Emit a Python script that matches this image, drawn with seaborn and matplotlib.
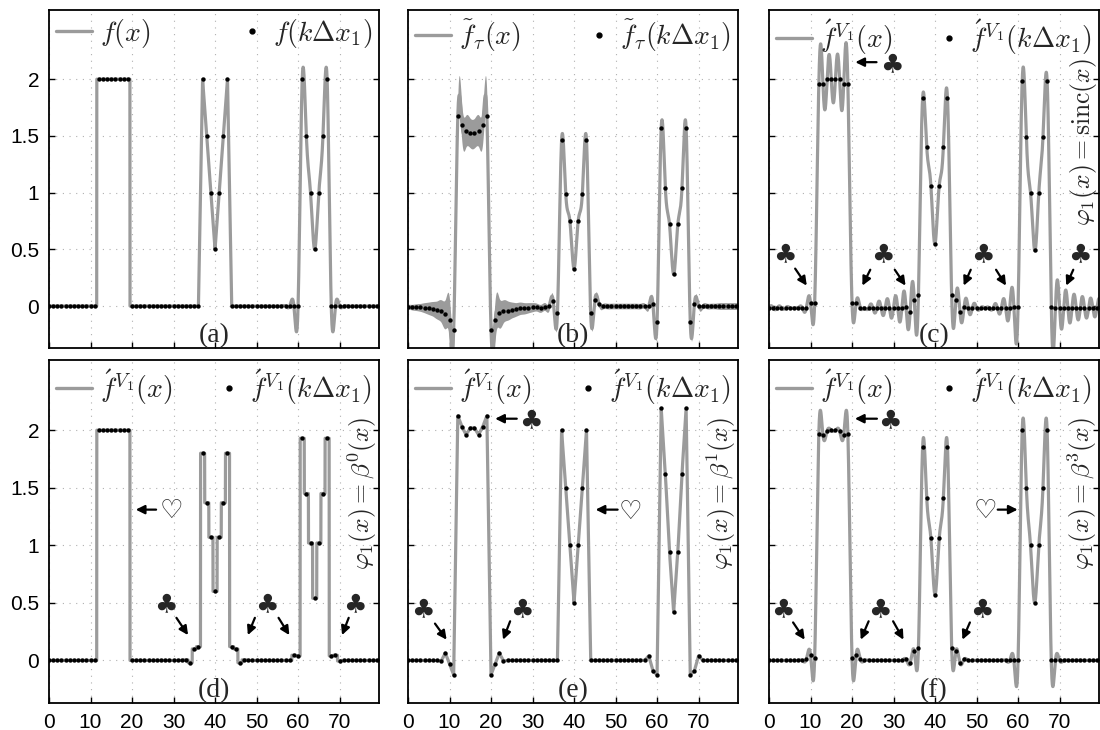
import numpy as np
import seaborn as sns
import matplotlib.pyplot as plt
from matplotlib.lines import Line2D
from matplotlib.ticker import FormatStrFormatter

# sample values k = 0..79 (Delta x1 = 1)
f_a = [0, 0, 0, 0, 0, 0, 0, 0, 0, 0,
       0, 0, 2, 2, 2, 2, 2, 2, 2, 2,
       0, 0, 0, 0, 0, 0, 0, 0, 0, 0,
       0, 0, 0, 0, 0, 0, 0, 2, 1.5, 1,
       0.5, 1, 1.5, 2, 0, 0, 0, 0, 0, 0,
       0, 0, 0, 0, 0, 0, 0, 0, 0, 0,
       0, 2, 1.5, 1, 0.5, 1, 1.5, 2, 0, 0,
       0, 0, 0, 0, 0, 0, 0, 0, 0, 0]

f_b = [-0.006, -0.01, -0.01, -0.012, -0.015, -0.02, -0.025, -0.035, -0.045, -0.07,
       -0.12, -0.21, 1.675, 1.6, 1.545, 1.525, 1.525, 1.545, 1.6, 1.675,
       -0.21, -0.12, -0.064, -0.045, -0.04, -0.035, -0.03, -0.02, -0.02, -0.015,
       -0.01, -0.01, -0.02, -0.005, 0.0, 0.04, -0.064, 1.46, 0.99, 0.75,
       0.33, 0.75, 0.99, 1.46, -0.06, 0.05, 0.02, 0, 0, 0,
       0, 0, 0, 0, 0, 0, 0, 0, 0, 0.02,
       -0.14, 1.57, 1.04, 0.72, 0.28, 0.72, 1.04, 1.57, -0.14, 0.02,
       0, 0, 0, 0, 0, 0, 0, 0, 0, 0]

# half width of the fast oscillation around f_b
env_b = [0.02, 0.025, 0.03, 0.035, 0.045, 0.055, 0.065, 0.08, 0.1, 0.13,
         0.18, 0.22, 0.18, 0.16, 0.14, 0.13, 0.13, 0.14, 0.16, 0.18,
         0.22, 0.18, 0.13, 0.1, 0.085, 0.07, 0.06, 0.055, 0.05, 0.045,
         0.04, 0.035, 0.035, 0.035, 0.035, 0.03, 0.02, 0.015, 0.015, 0.015,
         0.015, 0.015, 0.015, 0.015, 0.02, 0.025, 0.025, 0.025, 0.025, 0.025,
         0.025, 0.025, 0.025, 0.025, 0.025, 0.025, 0.025, 0.025, 0.025, 0.02,
         0.02, 0.015, 0.015, 0.015, 0.015, 0.015, 0.015, 0.015, 0.02, 0.025,
         0.025, 0.025, 0.025, 0.025, 0.025, 0.03, 0.03, 0.03, 0.03, 0.03]

f_c = [-0.015, -0.015, -0.015, -0.015, -0.015, -0.015, -0.015, -0.015, -0.015, -0.015,
       0.03, 0.03, 1.956, 1.956, 2.0, 2.0, 2.0, 2.0, 1.956, 1.956,
       0.03, 0.03, -0.015, -0.015, -0.015, -0.015, -0.015, -0.015, -0.015, -0.015,
       -0.015, -0.015, -0.02, -0.01, -0.05, 0.05, 0.1, 1.83, 1.40, 1.06,
       0.55, 1.06, 1.40, 1.83, 0.1, 0.05, -0.05, -0.01, -0.02, -0.015,
       -0.015, -0.015, -0.015, -0.015, -0.015, -0.015, -0.015, -0.015, -0.015, -0.01,
       -0.01, 1.985, 1.49, 1.0, 0.49, 1.0, 1.49, 1.985, -0.01, -0.02,
       -0.015, -0.015, -0.015, -0.015, -0.015, -0.015, -0.015, -0.015, -0.015, -0.015]

f_d = [0, 0, 0, 0, 0, 0, 0, 0, 0, 0,
       0, 0, 2, 2, 2, 2, 2, 2, 2, 2,
       0, 0, 0, 0, 0, 0, 0, 0, 0, 0,
       0, 0, 0, 0.005, -0.02, 0.1, 0.12, 1.8, 1.37, 1.07,
       0.6, 1.07, 1.37, 1.8, 0.12, 0.1, -0.02, 0.005, 0, 0,
       0, 0, 0, 0, 0, 0, 0, 0, 0, 0.045,
       0.04, 1.93, 1.45, 1.02, 0.54, 1.02, 1.45, 1.93, 0.04, 0.045,
       -0.005, 0, 0, 0, 0, 0, 0, 0, 0, 0]

f_e = [0, 0, 0, 0, 0, 0, 0, 0, -0.005, 0.064,
       -0.03, -0.125, 2.125, 2.03, 1.96, 2.02, 2.02, 1.96, 2.03, 2.125,
       -0.125, -0.03, 0.064, -0.005, 0, 0, 0, 0, 0, 0,
       0, 0, 0, 0, 0, 0, 0, 2.0, 1.5, 1.0,
       0.5, 1.0, 1.5, 2.0, 0, 0, 0, 0, 0, 0,
       0, 0, 0, 0, 0, 0, 0, 0, 0.04, -0.09,
       -0.125, 2.19, 1.62, 0.94, 0.42, 0.94, 1.62, 2.19, -0.125, -0.09,
       0.04, 0, 0, 0, 0, 0, 0, 0, 0, 0]

f_f = [0, 0, 0, 0, 0, 0, 0, 0, 0, 0.01,
       0.05, 0.02, 1.97, 1.955, 1.995, 2.0, 2.0, 1.995, 1.955, 1.97,
       0.02, 0.05, 0.01, 0, 0, 0, 0, 0, 0, 0,
       0, 0, 0, 0.01, -0.025, 0.08, 0.11, 1.85, 1.41, 1.06,
       0.57, 1.06, 1.41, 1.85, 0.11, 0.08, -0.025, 0.01, 0, 0,
       0, 0, 0, 0, 0, 0, 0, 0, 0, 0,
       0, 2.0, 1.5, 1.0, 0.5, 1.0, 1.5, 2.0, 0, 0,
       0, 0, 0, 0, 0, 0, 0, 0, 0, 0]

GRAY = '#9b9b9b'
k = np.arange(80)
xs = np.linspace(0, 79.5, 7951)


def beta3(t):
    t = np.abs(t)
    return np.where(t < 1, 2 / 3 - t**2 + t**3 / 2, np.where(t < 2, (2 - t)**3 / 6, 0.0))


def reconstruct(x, s, kind):
    # continuous curve from the samples with the basis named in the panel
    s = np.asarray(s, float)
    n = len(s)
    if kind == 'b0':
        return s[np.clip(np.floor(x + 0.5).astype(int), 0, n - 1)]
    if kind == 'b1':
        return np.interp(x, np.arange(n), s)
    d = x[:, None] - np.arange(n)[None, :]
    if kind == 'sinc':
        return np.sinc(d) @ s
    A = (np.diag(np.full(n, 4 / 6)) + np.diag(np.full(n - 1, 1 / 6), 1)
         + np.diag(np.full(n - 1, 1 / 6), -1))
    A[0, 1] = A[-1, -2] = 2 / 6
    c = np.linalg.solve(A, s)
    return beta3(d) @ c


def piecewise(x, s, parts):
    s = np.asarray(s, float)
    out = np.zeros_like(x)
    for kind, lo, hi in parts:
        part = np.zeros_like(s)
        part[lo:hi] = s[lo:hi]
        out += reconstruct(x, part, kind)
    return out


fv = r'\acute{f}^{V_1}'
panels = [
    dict(s=f_a, curve=piecewise(xs, f_a, [('b0', 0, 30), ('b1', 30, 50), ('b3', 50, 80)]),
         leg=(r'$f(x)$', r'$f(k\Delta x_1)$'), tag='(a)', side=None),
    dict(s=f_b, curve=reconstruct(xs, f_b, 'b3'),
         leg=(r'$\tilde{f}_\tau(x)$', r'$\tilde{f}_\tau(k\Delta x_1)$'), tag='(b)', side=None),
    dict(s=f_c, curve=reconstruct(xs, f_c, 'sinc'),
         leg=(rf'${fv}(x)$', rf'${fv}(k\Delta x_1)$'), tag='(c)',
         side=r'$\varphi_1(x) = \mathrm{sinc}(x)$'),
    dict(s=f_d, curve=reconstruct(xs, f_d, 'b0'),
         leg=(rf'${fv}(x)$', rf'${fv}(k\Delta x_1)$'), tag='(d)',
         side=r'$\varphi_1(x) = \beta^0(x)$'),
    dict(s=f_e, curve=reconstruct(xs, f_e, 'b1'),
         leg=(rf'${fv}(x)$', rf'${fv}(k\Delta x_1)$'), tag='(e)',
         side=r'$\varphi_1(x) = \beta^1(x)$'),
    dict(s=f_f, curve=reconstruct(xs, f_f, 'b3'),
         leg=(rf'${fv}(x)$', rf'${fv}(k\Delta x_1)$'), tag='(f)',
         side=r'$\varphi_1(x) = \beta^3(x)$'),
]

CLUB, HEART = '\u2663', '\u2661'
# (symbol, text position, [(tail, head), ...])
notes = {
    2: [(CLUB, (29.6, 2.12), [((25.9, 2.15), (20.8, 2.15))]),
        (CLUB, (3.8, 0.45), [((6.3, 0.33), (9.1, 0.18))]),
        (CLUB, (27.4, 0.45), [((24.4, 0.32), (22.5, 0.18)), ((30.3, 0.32), (32.9, 0.18))]),
        (CLUB, (51.6, 0.45), [((48.6, 0.32), (46.9, 0.18)), ((54.7, 0.32), (57.1, 0.18))]),
        (CLUB, (74.8, 0.45), [((73.3, 0.32), (71.6, 0.18))])],
    3: [(HEART, (29.5, 1.3), [((25.8, 1.31), (20.9, 1.31))]),
        (CLUB, (28.2, 0.48), [((30.7, 0.37), (33.5, 0.22))]),
        (CLUB, (52.5, 0.48), [((49.6, 0.37), (47.9, 0.22)), ((55.3, 0.37), (57.9, 0.22))]),
        (CLUB, (73.8, 0.48), [((72.2, 0.37), (70.6, 0.22))])],
    4: [(CLUB, (29.5, 2.08), [((26.2, 2.1), (21.0, 2.1))]),
        (HEART, (53.6, 1.29), [((50.5, 1.31), (45.2, 1.31))]),
        (CLUB, (3.6, 0.44), [((6.5, 0.32), (9.3, 0.18))]),
        (CLUB, (27.5, 0.44), [((24.6, 0.34), (22.9, 0.18))])],
    5: [(CLUB, (29.2, 2.08), [((26.0, 2.1), (20.7, 2.1))]),
        (HEART, (52.2, 1.3), [((55.1, 1.31), (59.9, 1.31))]),
        (CLUB, (3.4, 0.44), [((5.8, 0.33), (8.6, 0.18))]),
        (CLUB, (26.8, 0.44), [((24.0, 0.34), (22.1, 0.18)), ((29.9, 0.34), (32.4, 0.18))]),
        (CLUB, (51.2, 0.44), [((48.4, 0.33), (46.6, 0.18))])],
}

sns.set_style('ticks')
plt.rcParams['font.family'] = ['Liberation Sans', 'DejaVu Sans']
plt.rcParams['mathtext.fontset'] = 'cm'
plt.rcParams['xtick.direction'] = 'in'
plt.rcParams['ytick.direction'] = 'in'
plt.rcParams['xtick.top'] = False
plt.rcParams['ytick.right'] = True

fig = plt.figure(figsize=(11, 7.3), dpi=100)
W, H = 1100, 730
lefts = [49, 408, 769]
rows = [(10, 348), (360, 703)]

for i, p in enumerate(panels):
    r, c = divmod(i, 3)
    top, bot = rows[r]
    ax = fig.add_axes([lefts[c] / W, 1 - bot / H, 330 / W, (bot - top) / H])

    if i == 1:
        env = np.interp(xs, k, env_b)
        ax.fill_between(xs, p['curve'] - env, p['curve'] + env, color=GRAY, lw=0)
    sns.lineplot(x=xs, y=p['curve'], ax=ax, color=GRAY, lw=2.3, estimator=None)
    sns.scatterplot(x=k, y=p['s'], ax=ax, color='black', s=10, linewidth=0, zorder=3)

    ax.set_xlim(0, 79.5)
    ax.set_ylim(-0.37, 2.61)
    ax.set_xticks(range(0, 80, 10))
    ax.set_yticks([0, 0.5, 1, 1.5, 2])
    ax.yaxis.set_major_formatter(FormatStrFormatter('%g'))
    ax.grid(True, ls=(0, (1, 5)), color='#b0b0b0', lw=0.8)
    ax.tick_params(length=4, width=1, labelsize=15, pad=7, colors='black')
    if r == 0:
        ax.tick_params(labelbottom=False)
    if c > 0:
        ax.tick_params(labelleft=False)
    for sp in ax.spines.values():
        sp.set_linewidth(1.3)
        sp.set_color('black')

    h_line = Line2D([], [], color=GRAY, lw=2.4)
    h_dot = Line2D([], [], color='black', marker='o', ls='', ms=3.5)
    leg1 = ax.legend([h_line], [p['leg'][0]], loc='upper left', frameon=False,
                     fontsize=20, handlelength=1.3, handletextpad=0.3,
                     borderaxespad=0.1, borderpad=0.15)
    ax.add_artist(leg1)
    ax.legend([h_dot], [p['leg'][1]], loc='upper right', frameon=False,
              fontsize=20, handlelength=0.5, handletextpad=0.5,
              borderaxespad=0.1, borderpad=0.15)

    ax.text(0.5, 0.0, p['tag'], transform=ax.transAxes, ha='center', va='bottom',
            fontsize=20, family='Liberation Serif')
    if p['side']:
        ax.text(1.0, 0.61, p['side'], transform=ax.transAxes, rotation=90,
                ha='right', va='center', fontsize=18.5)

    for sym, pos, arrows in notes.get(i, []):
        ax.text(pos[0], pos[1], sym, ha='center', va='center', fontsize=19,
                family=['DejaVu Sans'])
        for tail, head in arrows:
            ax.annotate('', xy=head, xytext=tail,
                        arrowprops=dict(arrowstyle='-|>', color='black', lw=1.6,
                                        mutation_scale=13, shrinkA=0, shrinkB=0))

fig.savefig('out.png', dpi=100)
